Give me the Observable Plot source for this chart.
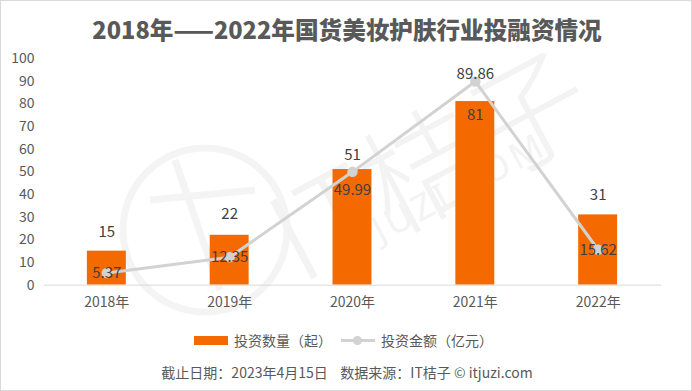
<!DOCTYPE html>
<html><head><meta charset="utf-8">
<script src="https://cdn.jsdelivr.net/npm/d3@7"></script>
<script src="https://cdn.jsdelivr.net/npm/@observablehq/plot@0.6"></script>
<style>
html,body{margin:0;padding:0;background:#fff;}
#wrap{position:relative;width:692px;height:391px;box-sizing:border-box;border:1px solid #d9d9d9;overflow:hidden;font-family:"Noto Sans CJK SC","Noto Sans",sans-serif;color:#595959;}
#title{position:absolute;left:0;top:11px;width:692px;text-align:center;font-size:23.6px;font-weight:900;line-height:34px;color:#595959;}
#wm{position:absolute;left:-1px;top:-1px;}
#chart{position:absolute;left:-1px;top:44px;}
#legend{position:absolute;left:0;top:329px;width:692px;height:20px;font-size:14px;line-height:20px;}
#footer{position:absolute;left:0;top:361px;width:692px;text-align:center;font-size:14px;line-height:20px;}
.sw{position:absolute;}
</style></head>
<body><div id="wrap">
<svg id="wm" width="692" height="391">
  <g fill="none" stroke="#f4f4f4" stroke-width="7">
    <circle cx="205" cy="230" r="82"></circle>
    <line x1="150" y1="200" x2="255" y2="190"></line>
    <line x1="175" y1="160" x2="220" y2="290"></line>
  </g>
  <g transform="translate(300,285) rotate(-28)" fill="#f3f3f3" font-family="Noto Sans CJK SC">
    <text x="0" y="0" font-size="120" font-weight="300">IT桔子</text>
  </g>
  <g transform="translate(345,262) rotate(-28)" fill="#f3f3f3" font-family="Noto Sans">
    <text x="0" y="0" font-size="36" letter-spacing="4">ITJUZI.COM</text>
  </g>
</svg>
<div id="title"></div>
<div id="chart"></div>
<div id="legend"></div>
<div id="footer"></div>
</div>
<script>
const titleText = "2018年——2022年国货美妆护肤行业投融资情况";
const years = ["2018年","2019年","2020年","2021年","2022年"];
const counts = [15, 22, 51, 81, 31];
const amounts = [5.37, 12.35, 49.99, 89.86, 15.62];
const yTicks = [0,10,20,30,40,50,60,70,80,90,100];
const seriesNames = ["投资数量（起）","投资金额（亿元）"];
const footerText = "截止日期：2023年4月15日\u00a0\u00a0\u00a0\u00a0数据来源：IT桔子 © itjuzi.com";

const barColor = "#F56A00";
const lineColor = "#D2D2D2";
const data = years.map((y,i)=>({year:y, count:counts[i], amount:amounts[i]}));
// label placement tweaks (px), as in the original
const countDy = [-19,-21,-14,14,-20];
const amountDy = [0,0,18,-7,0];

document.getElementById("title").textContent = titleText;
document.getElementById("footer").textContent = footerText;

const font = '"Noto Sans CJK SC","Noto Sans",sans-serif';
const chart = Plot.plot({
  width: 692, height: 270,
  marginTop: 13, marginBottom: 30, marginLeft: 44, marginRight: 30,
  style: {fontFamily: font, fontSize: "13px", color: "#595959", background: "transparent", overflow: "visible"},
  x: {domain: years, paddingInner: 0.68, paddingOuter: 0.34, label: null},
  y: {domain: [0,100], label: null},
  marks: [
    Plot.axisY(yTicks, {tickSize: 0, tickPadding: 10, fontSize: 14, label: null}),
    Plot.axisX({tickSize: 0, tickPadding: 12, fontSize: 14, label: null}),
    Plot.barY(data, {x: "year", y: "count", fill: barColor}),
    Plot.ruleY([0], {stroke: "#d9d9d9", strokeWidth: 1}),
    Plot.line(data, {x: "year", y: "amount", stroke: lineColor, strokeWidth: 3}),
    Plot.dot(data, {x: "year", y: "amount", r: 4.5, fill: lineColor, stroke: lineColor}),
    ...data.map((d,i)=>Plot.text([d], {x: "year", y: "count", text: d=>String(d.count), dy: countDy[i], fontSize: 15, fill: "#404040"})),
    ...data.map((d,i)=>Plot.text([d], {x: "year", y: "amount", text: d=>d.amount.toFixed(2), dy: amountDy[i], fontSize: 15, fill: "#404040"}))
  ]
});
document.getElementById("chart").appendChild(chart);

// legend
const lg = document.getElementById("legend");
lg.innerHTML = `
<div class="sw" style="left:193px;top:6px;width:34px;height:9px;background:${barColor}"></div>
<div class="sw" style="left:233px;top:0;white-space:nowrap">${seriesNames[0]}</div>
<div class="sw" style="left:340px;top:9px;width:34px;height:3px;background:${lineColor}"></div>
<div class="sw" style="left:352px;top:6px;width:9px;height:9px;border-radius:50%;background:${lineColor}"></div>
<div class="sw" style="left:380px;top:0;white-space:nowrap">${seriesNames[1]}</div>`;
</script>
</body></html>
